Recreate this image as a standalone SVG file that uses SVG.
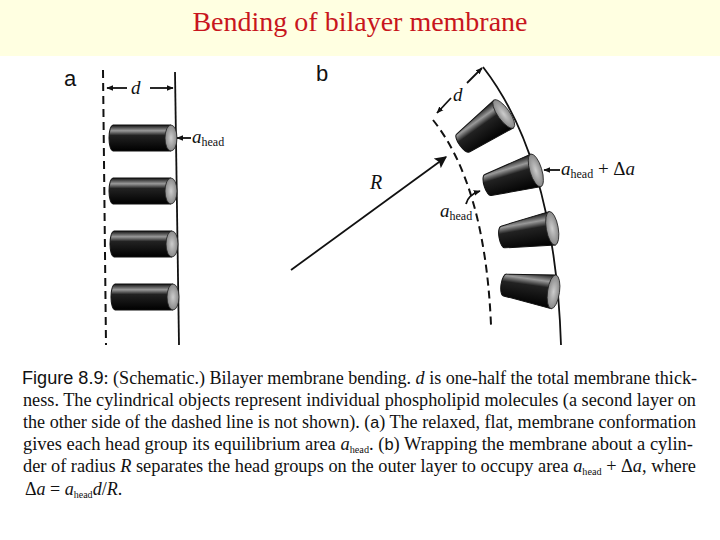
<svg xmlns="http://www.w3.org/2000/svg" width="720" height="540" viewBox="0 0 720 540">
<style>
.ser{font-family:"Liberation Serif","DejaVu Serif",serif;fill:#111}
.it{font-style:italic}
.lab{font-family:"Liberation Sans",Arial,sans-serif;font-size:22px;fill:#111}
.ln{stroke:#111;stroke-width:1.8;fill:none}
.dash{stroke:#111;stroke-width:2;fill:none;stroke-dasharray:8 5}
.cyl{fill:url(#gb);stroke:#111;stroke-width:1}
.hd{fill:url(#gh);stroke:#222;stroke-width:0.8}
</style>
<defs>
<linearGradient id="gb" x1="0" y1="0" x2="0" y2="1">
<stop offset="0" stop-color="#111"/><stop offset="0.22" stop-color="#999"/><stop offset="0.4" stop-color="#222"/><stop offset="1" stop-color="#000"/>
</linearGradient>
<radialGradient id="gh"><stop offset="0" stop-color="#ccc"/><stop offset="1" stop-color="#888"/></radialGradient>
<marker id="ah" viewBox="0 0 10 10" refX="9" refY="5" markerWidth="7" markerHeight="7" orient="auto-start-reverse" markerUnits="userSpaceOnUse">
<path d="M0,1 L10,5 L0,9 Z" fill="#111"/></marker>
<marker id="ahR" viewBox="0 0 10 10" refX="9" refY="5" markerWidth="14" markerHeight="12" orient="auto" markerUnits="userSpaceOnUse">
<path d="M0,0 L10,5 L0,10 L2,5 Z" fill="#111"/></marker>
</defs>
<rect width="720" height="540" fill="#fff"/>
<rect width="720" height="56" fill="#ffffe1"/>
<text x="360" y="31" text-anchor="middle" font-family="Liberation Serif,serif" font-size="28" fill="#c8161d">Bending of bilayer membrane</text>

<text class="lab" x="64" y="86">a</text>
<text class="lab" x="316" y="81">b</text>

<g id="membrane-a">
<line class="dash" x1="103" y1="70" x2="106" y2="345"/>
<line class="ln" x1="175" y1="72" x2="179" y2="345"/>
</g>
<g id="cylinders-a">
<g transform="translate(109,138)"><path class="cyl" d="M4,-13 L62,-13 L62,13 L4,13 A4,13 0 0 1 4,-13 Z"/><ellipse class="hd" cx="62" cy="0" rx="6" ry="13"/></g>
<g transform="translate(109,191)"><path class="cyl" d="M4,-13 L62,-13 L62,13 L4,13 A4,13 0 0 1 4,-13 Z"/><ellipse class="hd" cx="62" cy="0" rx="6" ry="13"/></g>
<g transform="translate(110,244)"><path class="cyl" d="M4,-13 L62,-13 L62,13 L4,13 A4,13 0 0 1 4,-13 Z"/><ellipse class="hd" cx="62" cy="0" rx="6" ry="13"/></g>
<g transform="translate(111,297)"><path class="cyl" d="M4,-13 L62,-13 L62,13 L4,13 A4,13 0 0 1 4,-13 Z"/><ellipse class="hd" cx="62" cy="0" rx="6" ry="13"/></g>
</g>

<g id="membrane-b">
<path class="ln" d="M483,67 Q555,160 561,345"/>
<path class="dash" d="M433,120 Q485,185 491,325"/>
</g>
<g id="cylinders-b">
<g transform="translate(463,143) rotate(-35.5)"><path class="cyl" d="M0,-11 L50,-17 L50,17 L0,11 A4,11 0 0 1 0,-11 Z"/><ellipse class="hd" cx="50" cy="0" rx="6" ry="17"/></g>
<g transform="translate(488,185) rotate(-17)"><path class="cyl" d="M0,-11 L50,-17 L50,17 L0,11 A4,11 0 0 1 0,-11 Z"/><ellipse class="hd" cx="50" cy="0" rx="6" ry="17"/></g>
<g transform="translate(503,237) rotate(-10)"><path class="cyl" d="M0,-11 L50,-17 L50,17 L0,11 A4,11 0 0 1 0,-11 Z"/><ellipse class="hd" cx="50" cy="0" rx="6" ry="17"/></g>
<g transform="translate(505,285) rotate(8)"><path class="cyl" d="M0,-11 L49,-17 L49,17 L0,11 A4,11 0 0 1 0,-11 Z"/><ellipse class="hd" cx="49" cy="0" rx="6" ry="17"/></g>
</g>

<g id="connectors">
<line class="ln" x1="107" y1="88" x2="127" y2="88" stroke-width="1.5" marker-start="url(#ah)"/>
<line class="ln" x1="150" y1="88" x2="173" y2="88" stroke-width="1.5" marker-end="url(#ah)"/>
<line class="ln" x1="191" y1="138" x2="177" y2="138" stroke-width="1.5" marker-end="url(#ah)"/>
<line class="ln" x1="437" y1="113" x2="451" y2="98" stroke-width="1.5" marker-start="url(#ah)"/>
<line class="ln" x1="467" y1="83" x2="482" y2="68" stroke-width="1.5" marker-end="url(#ah)"/>
<line class="ln" x1="291" y1="270" x2="446" y2="157" stroke-width="2.4" marker-end="url(#ahR)"/>
<line class="ln" x1="560" y1="170" x2="544" y2="170" stroke-width="1.5" marker-end="url(#ah)"/>
<path class="ln" d="M466,204 Q468,195 480,191" stroke-width="1.5" marker-end="url(#ah)"/>
</g>

<g id="labels">
<text class="ser it" x="131" y="94" font-size="19">d</text>
<text class="ser" x="192" y="143"><tspan class="it" font-size="19">a</tspan><tspan font-size="12" dy="3">head</tspan></text>
<text class="ser it" x="453" y="101" font-size="19">d</text>
<text class="ser it" x="370" y="189" font-size="20">R</text>
<text class="ser" x="561" y="175"><tspan class="it" font-size="19">a</tspan><tspan font-size="12" dy="3">head</tspan><tspan font-size="19" dy="-3"> + Δ</tspan><tspan class="it" font-size="19">a</tspan></text>
<text class="ser" x="440" y="217"><tspan class="it" font-size="19">a</tspan><tspan font-size="12" dy="3">head</tspan></text>
</g>

<g id="caption" font-family="Liberation Serif,serif" font-size="18" fill="#111">
<text x="22" y="384" textLength="675" lengthAdjust="spacingAndGlyphs"><tspan font-family="Liberation Sans,sans-serif" font-size="18">Figure 8.9</tspan>:  (Schematic.) Bilayer membrane bending. <tspan font-style="italic">d</tspan> is one-half the total membrane thick-</text>
<text x="23" y="406" textLength="673" lengthAdjust="spacingAndGlyphs">ness. The cylindrical objects represent individual phospholipid molecules (a second layer on</text>
<text x="23" y="428" textLength="673" lengthAdjust="spacingAndGlyphs">the other side of the dashed line is not shown). (<tspan font-family="Liberation Sans,sans-serif" font-size="16">a</tspan>) The relaxed, flat, membrane conformation</text>
<text x="23" y="450" textLength="670" lengthAdjust="spacingAndGlyphs">gives each head group its equilibrium area <tspan font-style="italic">a</tspan><tspan font-size="10" dy="3">head</tspan><tspan dy="-3">. (</tspan><tspan font-family="Liberation Sans,sans-serif" font-size="16">b</tspan>) Wrapping the membrane about a cylin-</text>
<text x="23" y="472" textLength="673" lengthAdjust="spacingAndGlyphs">der of radius <tspan font-style="italic">R</tspan> separates the head groups on the outer layer to occupy area <tspan font-style="italic">a</tspan><tspan font-size="10" dy="3">head</tspan><tspan dy="-3"> + Δ</tspan><tspan font-style="italic">a</tspan>, where</text>
<text x="25" y="495">Δ<tspan font-style="italic">a</tspan> = <tspan font-style="italic">a</tspan><tspan font-size="10" dy="3">head</tspan><tspan font-style="italic" dy="-3">d</tspan>/<tspan font-style="italic">R</tspan>.</text>
</g>
</svg>
